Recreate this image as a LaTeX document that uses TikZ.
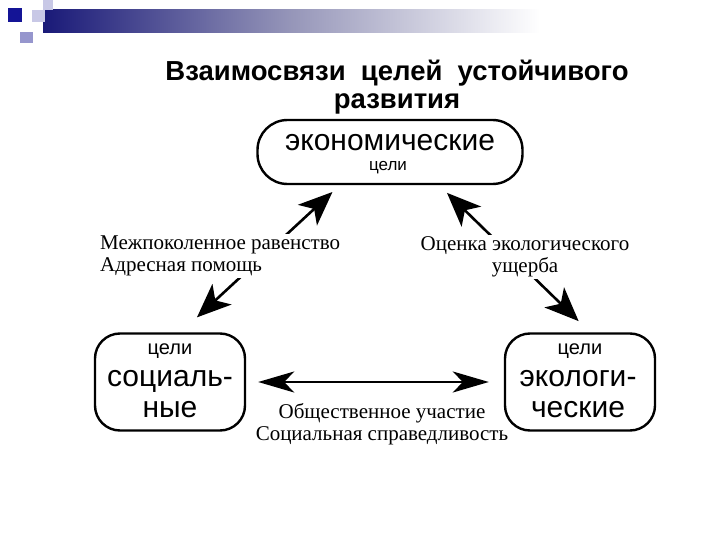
\documentclass[tikz,border=0pt]{standalone}
\usepackage{fontspec}
\setmainfont{Liberation Serif}
\newfontfamily\arialf{Liberation Sans}
\usetikzlibrary{arrows.meta,calc}
\definecolor{navy}{RGB}{25,25,120}
\definecolor{sqdark}{RGB}{20,20,150}
\definecolor{sqlight}{RGB}{200,200,230}
\definecolor{sqmid}{RGB}{150,150,205}
\tikzset{
  goalbox/.style={draw, line width=2.4pt, rounded corners=#1},
  bigtext/.style={font=\arialf\fontsize{30}{31}\selectfont, align=center},
  smalltext/.style={font=\arialf\fontsize{20}{22}\selectfont},
  lbl/.style={font=\fontsize{21}{22}\selectfont, inner sep=2pt},
  dbl/.style={line width=2.6pt, {Stealth[length=34pt,width=28pt,inset=9pt]}-{Stealth[length=34pt,width=28pt,inset=9pt]}},
  hdbl/.style={line width=2.6pt, {Stealth[length=36pt,width=21pt,inset=10pt]}-{Stealth[length=36pt,width=21pt,inset=10pt]}},
}
\begin{document}
\begin{tikzpicture}[x=1pt,y=-1pt]
\useasboundingbox (0,0) rectangle (720,540);
% top-left decoration
\shade[left color=navy, right color=white, middle color={rgb,255:red,150;green,150;blue,185}] (43,10) rectangle (540,33);
\fill[sqlight] (43,0) rectangle (53,10);
\fill[sqlight] (32,10) rectangle (45,22);
\fill[sqmid] (20,32) rectangle (33,43);
\fill[sqdark] (8,8) rectangle (22,22);
% title
\node[font=\arialf\bfseries\fontsize{27.5}{28}\selectfont, align=center] (title) at (397,87) {Взаимосвязи\ \ целей\ \ устойчивого\\развития};
% boxes
\node[goalbox=30pt, minimum width=265pt, minimum height=64pt] (econ) at (390,152) {};
\node[font=\arialf\fontsize{30}{31}\selectfont] (econt) at (390,143) {экономические};
\node[font=\arialf\fontsize{17}{18}\selectfont] (econs) at (388,168) {цели};
\node[goalbox=25pt, minimum width=150pt, minimum height=97pt] (soc) at (170,382) {};
\node[smalltext] (socs) at (170,351) {цели};
\node[bigtext] (soct) at (170,394) {социаль-\\ные};
\node[goalbox=25pt, minimum width=150pt, minimum height=97pt] (eco) at (580,382) {};
\node[smalltext] (ecos) at (580,351) {цели};
\node[bigtext] (ecot) at (578,394) {экологи-\\ческие};
% connectors
\draw[dbl, shorten <=22pt, shorten >=10pt] ([xshift=87pt]soc.north west) -- ([xshift=83.5pt]econ.south west);
\draw[dbl, shorten <=11pt, shorten >=16pt] ([xshift=182.8pt]econ.south west) -- ([xshift=86.3pt]eco.north west);
\draw[hdbl, shorten <=12pt, shorten >=15pt] (soc.east) -- (eco.west);
% labels
\node[lbl, fill=white, align=left, anchor=west] (l1) at (98,256) {Межпоколенное равенство\\Адресная помощь};
\node[lbl, fill=white, align=center] (l2) at (525,257) {Оценка экологического\\ущерба};
\node[lbl, align=center] (l3) at (382,424) {Общественное участие\\Социальная справедливость};
\end{tikzpicture}
\end{document}
